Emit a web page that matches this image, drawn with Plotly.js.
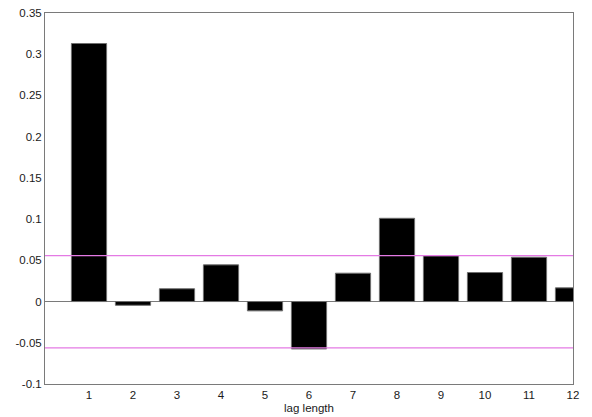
<!DOCTYPE html>
<html>
<head>
<meta charset="utf-8">
<script src="https://cdn.plot.ly/plotly-3.0.1.min.js"></script>
<style>html,body{margin:0;padding:0;background:#fff}#chart{width:592px;height:417px}</style>
</head>
<body>
<div id="chart"></div>
<script>
var lags = [1,2,3,4,5,6,7,8,9,10,11,12];
var acf = [0.313,-0.0045,0.0155,0.0445,-0.0113,-0.0575,0.0344,0.101,0.0555,0.0352,0.0538,0.0166];
var bandUpper = 0.0557;
var bandLower = -0.0563;
var yTickVals = [-0.1,-0.05,0,0.05,0.1,0.15,0.2,0.25,0.3,0.35];
var yTickText = ["-0.1","-0.05","0","0.05","0.1","0.15","0.2","0.25","0.3","0.35"];
var xTickVals = lags;
var xTickText = lags.map(String);

var traces = [{
  type: 'bar',
  x: lags,
  y: acf,
  width: 0.8,
  marker: {color: '#000000', line: {color: '#6e6e6e', width: 1}},
  hoverinfo: 'x+y'
}];

var layout = {
  width: 592, height: 417,
  margin: {l: 45, r: 19, t: 13, b: 33},
  paper_bgcolor: '#ffffff', plot_bgcolor: '#ffffff',
  showlegend: false,
  font: {family: 'Arial, Liberation Sans, sans-serif', size: 11.5, color: '#1a1a1a'},
  xaxis: {
    range: [0, 12], tickvals: xTickVals, ticktext: xTickText,
    showgrid: false, zeroline: false,
    showline: true, mirror: true, linecolor: '#7a7a7a', linewidth: 1,
    ticks: '', tickfont: {size: 11.5, color: '#1a1a1a'},
    title: {text: 'lag length', font: {size: 11.5, color: '#1a1a1a'}, standoff: 4}
  },
  yaxis: {
    range: [-0.1, 0.35], tickvals: yTickVals, ticktext: yTickText,
    showgrid: false, zeroline: true, zerolinecolor: '#7a7a7a', zerolinewidth: 1,
    showline: true, mirror: true, linecolor: '#7a7a7a', linewidth: 1,
    ticks: '', tickfont: {size: 11.5, color: '#1a1a1a'}
  },
  shapes: [
    {type: 'line', xref: 'paper', x0: 0, x1: 1, yref: 'y', y0: bandUpper, y1: bandUpper, line: {color: '#e47ae4', width: 1.2}, layer: 'above'},
    {type: 'line', xref: 'paper', x0: 0, x1: 1, yref: 'y', y0: bandLower, y1: bandLower, line: {color: '#e47ae4', width: 1.2}, layer: 'above'}
  ]
};

Plotly.newPlot('chart', traces, layout, {displayModeBar: false, staticPlot: true});
</script>
</body>
</html>
